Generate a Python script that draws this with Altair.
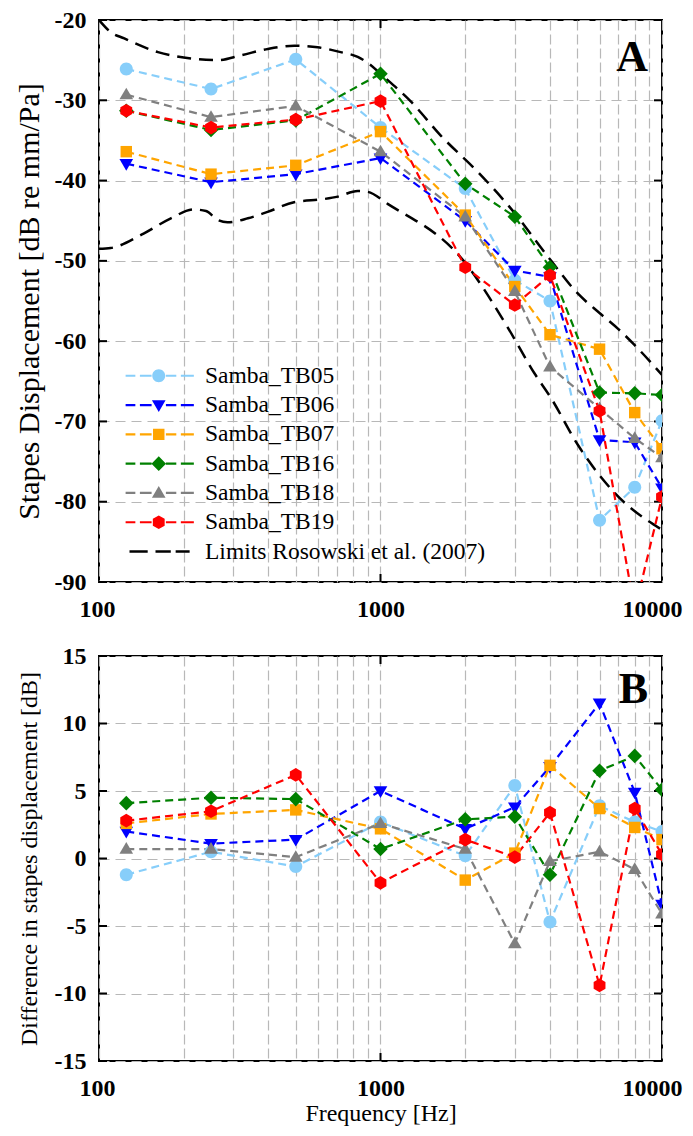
import altair as alt
import pandas as pd

# ---------------- data ----------------
freqs = [125, 250, 500, 1000, 2000, 3000, 4000, 6000, 8000, 10000]
series_names = ["Samba_TB05", "Samba_TB06", "Samba_TB07", "Samba_TB16", "Samba_TB18", "Samba_TB19"]
limit_name = "Limits Rosowski et al. (2007)"

disp_tb05 = [-26.1, -28.6, -24.9, -33.4, -41.0, -52.4, -55.0, -82.3, -78.2, -69.9]
disp_tb06 = [-37.9, -40.2, -39.2, -37.2, -45.0, -51.2, -52.0, -72.3, -72.6, -78.3]
disp_tb07 = [-36.4, -39.2, -38.1, -33.9, -44.3, -53.2, -59.2, -61.0, -68.9, -73.4]
disp_tb16 = [-31.3, -33.7, -32.5, -26.7, -40.4, -44.5, -50.8, -66.4, -66.5, -66.7]
disp_tb18 = [-29.3, -32.1, -30.7, -36.4, -44.5, -53.8, -63.2, -68.4, -72.1, -74.5]
disp_tb19 = [-31.3, -33.4, -32.4, -30.1, -50.8, -55.5, -51.8, -68.7, -93.5, -79.4]

diff_tb05 = [-1.2, 0.5, -0.6, 2.7, 0.2, 5.4, -4.7, 3.9, 2.7, 2.0]
diff_tb06 = [2.0, 1.1, 1.4, 5.0, 2.2, 3.8, 6.8, 11.5, 4.9, -3.4]
diff_tb07 = [2.6, 3.3, 3.6, 2.2, -1.6, 0.4, 6.9, 3.7, 2.3, 1.4]
diff_tb16 = [4.1, 4.5, 4.4, 0.7, 2.9, 3.1, -1.2, 6.5, 7.6, 5.1]
diff_tb18 = [0.7, 0.7, 0.1, 2.6, 0.7, -6.3, -0.2, 0.5, -0.8, -4.1]
diff_tb19 = [2.8, 3.5, 6.2, -1.8, 1.4, 0.1, 3.4, -9.4, 3.7, 0.3]

upper_freq = [100, 110, 123, 162, 212, 264, 319, 398, 494, 598, 722, 830, 922, 1000,
              1286, 1637, 2214, 2907, 4000, 5000, 6000, 7000, 8000, 10000]
upper_db = [-20.0, -21.5, -22.3, -24.0, -24.8, -25.0, -24.4, -23.6, -23.2, -23.4, -24.0, -24.6, -25.6, -26.7,
            -30.2, -34.4, -38.9, -43.5, -49.8, -54.0, -56.5, -58.5, -60.5, -64.2]
lower_freq = [100, 110, 144, 180, 217, 240, 264, 286, 338, 397, 493, 630, 705, 830, 900, 1060,
              1984, 2843, 3522, 4020, 5041, 6745, 10000]
lower_db = [-48.5, -48.4, -46.6, -44.7, -43.6, -43.8, -44.9, -45.2, -44.7, -43.9, -42.7, -42.3, -42.0, -41.3, -41.4, -42.9,
            -50.1, -58.4, -64.0, -67.0, -73.0, -78.8, -83.5]

x_grid_values = [100, 200, 300, 400, 500, 600, 700, 800, 900, 1000,
                 2000, 3000, 4000, 5000, 6000, 7000, 8000, 9000, 10000]
x_major_ticks = [1000]
top_y_values = [-90, -80, -70, -60, -50, -40, -30, -20]
bottom_y_values = [-15, -10, -5, 0, 5, 10, 15]
panel_letters = ["A", "B"]

# ---------------- styles ----------------
colors = ["#87CEFA", "#0000FF", "#FFA500", "#008000", "#808080", "#FF0000"]
FONT = "Liberation Serif"
PW = 563
TICK = 8


def poly(pts):
    return "M" + "L".join(f"{x},{y}" for x, y in pts) + "Z"


marker_paths = [
    "M-1,0A1,1,0,1,1,1,0A1,1,0,1,1,-1,0Z",
    poly([(-1.05, -0.72), (1.05, -0.72), (0, 1.08)]),
    poly([(-0.88, -0.88), (0.88, -0.88), (0.88, 0.88), (-0.88, 0.88)]),
    poly([(0, -1.12), (1.12, 0), (0, 1.12), (-1.12, 0)]),
    poly([(0, -1.08), (1.05, 0.72), (-1.05, 0.72)]),
    poly([(0, -1.05), (0.91, -0.52), (0.91, 0.52), (0, 1.05), (-0.91, 0.52), (-0.91, -0.52)]),
]


def rects(segs, h):
    return "".join(f"M{a},{-h}H{b}V{h}H{a}Z" for a, b in segs)


series_dash = rects([(-5.1, -3.6), (-2.9, -1.1), (1.1, 2.7), (3.4, 5.4)], 0.17)
limit_dash = rects([(-4.5, -1.7), (-0.5, 1.85), (2.6, 4.75)], 0.2)
legend_paths = [series_dash + m for m in marker_paths] + [limit_dash]
legend_names = series_names + [limit_name]
legend_colors = colors + ["#000000"]

MSIZE = 169


def long_df(values):
    rows = []
    for name, vals in zip(series_names, values):
        for f, v in zip(freqs, vals):
            rows.append({"series": name, "freq": f, "val": v})
    return pd.DataFrame(rows)


df_top = long_df([disp_tb05, disp_tb06, disp_tb07, disp_tb16, disp_tb18, disp_tb19])
df_bot = long_df([diff_tb05, diff_tb06, diff_tb07, diff_tb16, diff_tb18, diff_tb19])
df_lim = pd.concat([
    pd.DataFrame({"curve": "upper", "freq": upper_freq, "val": upper_db}),
    pd.DataFrame({"curve": "lower", "freq": lower_freq, "val": lower_db}),
])

x_label_expr = "(datum.value == 100 || datum.value == 1000 || datum.value == 10000) ? toString(datum.value) : ''"


def x_enc(title):
    return alt.X(
        "freq:Q",
        scale=alt.Scale(type="log", domain=[100, 10000], nice=False),
        axis=alt.Axis(values=x_grid_values, labelExpr=x_label_expr,
                      title=title, titleFontSize=24, titlePadding=1, labelPadding=15,
                      labelOverlap=False, labelFlush=True, labelFlushOffset=20, gridDash=[10, 4]),
    )


def y_enc(domain, values, title, tsize, tpad):
    return alt.Y(
        "val:Q",
        scale=alt.Scale(domain=domain, nice=False, zero=False),
        axis=alt.Axis(values=values, labelExpr="toString(datum.value)", title=title,
                      titleFontSize=tsize, titlePadding=tpad, labelPadding=13, gridDash=[10, 6]),
    )


def panel(df, domain, yvalues, ytitle, tsize, tpad, xtitle, letter, letter_base, height,
          with_limits, with_legend):
    X = x_enc(xtitle)
    Y = y_enc(domain, yvalues, ytitle, tsize, tpad)
    layers = []
    # inward frame ticks
    df_yt = pd.DataFrame({"val": yvalues})
    df_xt = pd.DataFrame({"freq": x_major_ticks})
    layers += [
        alt.Chart(df_yt).mark_rule(color="black", strokeWidth=2)
        .encode(y=Y, x=alt.value(0), x2=alt.value(TICK)),
        alt.Chart(df_yt).mark_rule(color="black", strokeWidth=2)
        .encode(y=Y, x=alt.value(PW - TICK), x2=alt.value(PW)),
        alt.Chart(df_xt).mark_rule(color="black", strokeWidth=2)
        .encode(x=X, y=alt.value(0), y2=alt.value(TICK)),
        alt.Chart(df_xt).mark_rule(color="black", strokeWidth=2)
        .encode(x=X, y=alt.value(height - TICK), y2=alt.value(height)),
    ]
    if with_limits:
        layers.append(
            alt.Chart(df_lim).mark_line(color="black", strokeDash=[14, 8], strokeWidth=2.5,
                                        interpolate="monotone", clip=True)
            .encode(x=X, y=Y, detail="curve:N")
        )
    layers.append(
        alt.Chart(df).mark_line(strokeDash=[8, 5], strokeWidth=2.2, clip=True)
        .encode(x=X, y=Y,
                stroke=alt.Stroke("series:N", scale=alt.Scale(domain=series_names, range=colors), legend=None))
    )
    for name, col, path in zip(series_names, colors, marker_paths):
        layers.append(
            alt.Chart(df).transform_filter(alt.datum.series == name)
            .mark_point(shape=path, filled=True, size=MSIZE, color=col, opacity=1, clip=True)
            .encode(x=X, y=Y)
        )
    if with_legend:
        leg = alt.Legend(orient="none", legendX=48, legendY=344, title=None,
                         labelFont=FONT, labelFontSize=23.5, labelColor="black", labelLimit=0,
                         labelOffset=34.5, rowPadding=4.3, padding=0, symbolSize=MSIZE,
                         symbolStrokeWidth=0, symbolOpacity=1)
        layers.append(
            alt.Chart(df).transform_filter("false")
            .mark_point(filled=True, size=MSIZE, opacity=1)
            .encode(
                color=alt.Color("series:N", scale=alt.Scale(domain=legend_names, range=legend_colors), legend=leg),
                shape=alt.Shape("series:N", scale=alt.Scale(domain=legend_names, range=legend_paths), legend=leg),
            )
        )
    layers.append(
        alt.Chart(pd.DataFrame({"t": [letter]}))
        .mark_text(align="right", baseline="alphabetic", fontSize=44, font=FONT,
                   fontWeight="bold", color="black")
        .encode(x=alt.value(PW - 14), y=alt.value(letter_base), text="t:N")
    )
    return alt.layer(*layers).properties(width=PW, height=height)


top = panel(df_top, [-90, -20], top_y_values, "Stapes Displacement [dB re mm/Pa]", 30, 10,
            None, panel_letters[0], 51, 562, True, True)
bottom = panel(df_bot, [-15, 15], bottom_y_values, "Difference in stapes displacement [dB]", 24, 13,
               "Frequency [Hz]", panel_letters[1], 47, 405, False, False)

chart = alt.vconcat(top, bottom, spacing=21).properties(
    padding={"left": 5, "top": -1, "right": 0, "bottom": 0},
    background="white",
).configure_axis(
    labelFont=FONT, labelFontWeight="bold", labelFontSize=24, labelColor="black",
    titleFont=FONT, titleFontWeight="normal", titleColor="black",
    domain=False, ticks=False, gridColor="#b8b8b8", gridWidth=1.2,
).configure_view(stroke="black", strokeWidth=2)

chart.save("out.html", embed_options={"renderer": "svg", "actions": False})
